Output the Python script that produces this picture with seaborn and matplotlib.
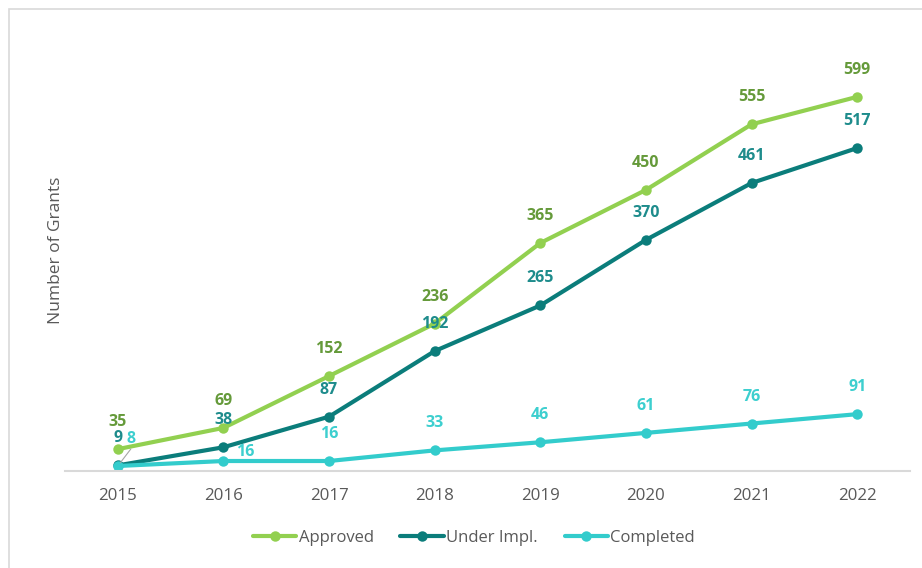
import matplotlib
matplotlib.use("Agg")
import matplotlib.pyplot as plt
import seaborn as sns
import pandas as pd
from matplotlib.lines import Line2D
from matplotlib.patches import Rectangle

years = ["2015", "2016", "2017", "2018", "2019", "2020", "2021", "2022"]
approved = [35, 69, 152, 236, 365, 450, 555, 599]
under_impl = [9, 38, 87, 192, 265, 370, 461, 517]
completed = [8, 16, 16, 33, 46, 61, 76, 91]
series_names = ["Approved", "Under Impl.", "Completed"]

line_colors = {"Approved": "#92D050", "Under Impl.": "#0B7D7B", "Completed": "#33CCCC"}
label_colors = {"Approved": "#659A3A", "Under Impl.": "#1E8C8C", "Completed": "#3DCFCF"}

df = pd.DataFrame({
    "Year": years * 3,
    "Grants": approved + under_impl + completed,
    "Series": [s for s in series_names for _ in years],
})

sns.set_theme(style="white")
plt.rcParams["font.family"] = ["Open Sans", "DejaVu Sans"]

fig = plt.figure(figsize=(9.22, 5.68), dpi=100)
W, H = 922, 568
ax = fig.add_axes([65 / W, (H - 471) / H, (910 - 65) / W, (471 - 30) / H])

sns.lineplot(data=df, x="Year", y="Grants", hue="Series", hue_order=series_names,
             palette=line_colors, marker="o", markersize=7.5, linewidth=3,
             markeredgewidth=0, ax=ax, legend=False, sort=False)

ax.set_xlim(-0.5, 7.5)
ax.set_ylim(0, 706)
ax.set_yticks([])
ax.set_xlabel("")
ax.set_ylabel("Number of Grants", fontsize=12.5, color="#595959", labelpad=1)
for s in ["top", "right", "left"]:
    ax.spines[s].set_visible(False)
ax.spines["bottom"].set_color("#D9D9D9")
ax.spines["bottom"].set_linewidth(1.5)
ax.tick_params(axis="x", length=0, pad=12, labelsize=12.2, labelcolor="#595959")

# data labels
values = {"Approved": approved, "Under Impl.": under_impl, "Completed": completed}
special = {("Completed", 0): (13, 27), ("Completed", 1): (22, 9)}
for name in series_names:
    for i, v in enumerate(values[name]):
        dx, dy = special.get((name, i), (0, 27))
        ax.annotate(str(v), (i, v), xytext=(dx * 0.72, dy * 0.72), textcoords="offset points",
                    ha="center", va="center", fontsize=11.5, fontweight="bold",
                    color=label_colors[name])

# leader line for completed 2015
ax.annotate("", (0, completed[0]), xytext=(13 * 0.72, 17 * 0.72), textcoords="offset points",
            arrowprops=dict(arrowstyle="-", color="#A6A6A6", lw=0.8, shrinkA=0, shrinkB=3))

handles = [Line2D([0], [0], color=line_colors[n], lw=3, marker="o", markersize=7.5,
                  markeredgewidth=0) for n in series_names]
fig.legend(handles, series_names, loc="center", bbox_to_anchor=(474 / W, (H - 538) / H),
           ncol=3, frameon=False, fontsize=12, handlelength=2.6, handletextpad=0.15,
           columnspacing=1.6, labelcolor="#595959", markerfirst=True)

fig.patches.append(Rectangle((9 / W, -0.1), 1.2, (H - 9) / H + 0.1, transform=fig.transFigure,
                             fill=False, edgecolor="#D9D9D9", linewidth=1.2))

fig.savefig("out.png", dpi=100)
